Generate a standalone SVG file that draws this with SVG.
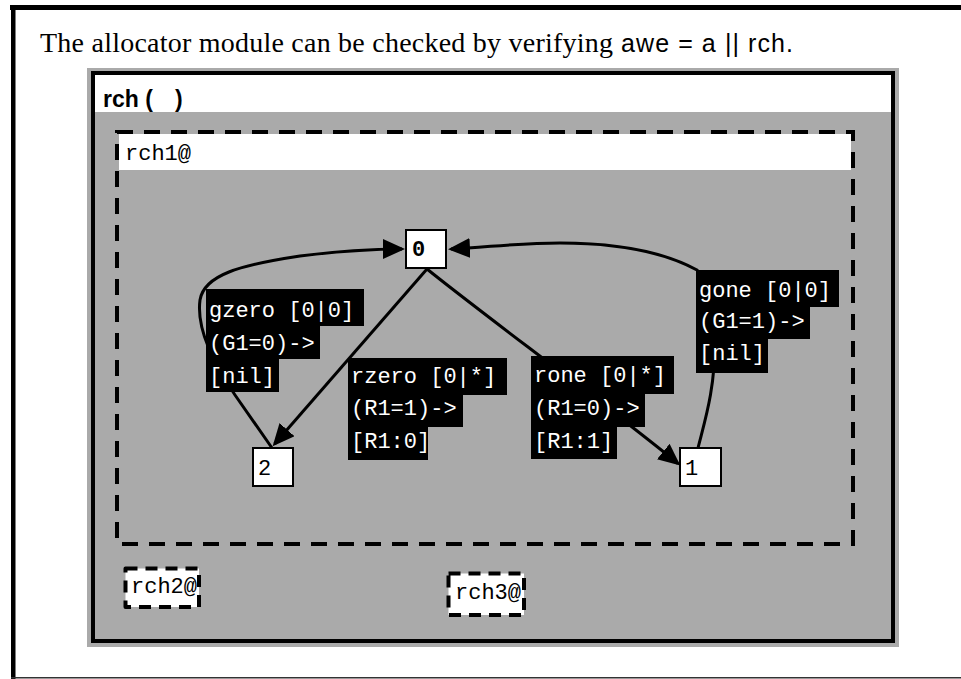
<svg xmlns="http://www.w3.org/2000/svg" width="961" height="679" viewBox="0 0 961 679">
<defs>
<style>
.mono{font-family:"Liberation Mono","DejaVu Sans Mono",monospace;font-size:22px;}
.lbl{fill:#000;}
.lt{fill:#fff;}
.state{fill:#fff;stroke:#000;stroke-width:2;}
.edge{fill:none;stroke:#000;stroke-width:3;}
</style>
<marker id="arr" markerUnits="userSpaceOnUse" markerWidth="24" markerHeight="22" refX="19" refY="10" orient="auto">
<path d="M0,0 L22,10 L0,20 Z" fill="#000"/>
</marker>
</defs>
<rect width="961" height="679" fill="#fff"/>
<!-- outer page frame -->
<rect x="10" y="5" width="951" height="5" fill="#000"/>
<rect x="11" y="5" width="4.5" height="674" fill="#000"/>
<rect x="11" y="677" width="950" height="1.5" fill="#333"/>
<text x="40" y="52" font-family="'Liberation Serif',serif" font-size="28" textLength="573" fill="#000">The allocator module can be checked by verifying</text>
<text x="621" y="52" font-family="'Liberation Sans',sans-serif" font-size="25" textLength="172" fill="#000">awe = a || rch.</text>

<g id="rch">
<rect x="87" y="68" width="812" height="579" fill="#aaaaaa"/>
<rect x="95" y="75" width="796" height="37" fill="#fff"/>
<rect x="93" y="73" width="800" height="568" fill="none" stroke="#000" stroke-width="4"/>
<text x="103" y="107" font-family="'Liberation Sans',sans-serif" font-size="23" font-weight="bold" fill="#000">rch (<tspan x="175">)</tspan></text>
</g>

<g id="rch1">
<rect x="119" y="134" width="732" height="36" fill="#fff"/>
<rect x="117" y="132" width="736" height="412" fill="none" stroke="#000" stroke-width="4" stroke-dasharray="16 11"/>
<text x="125" y="160" class="mono" font-size="21" fill="#000">rch1@</text>
</g>

<g id="connectors">
<path id="e-gzero" class="edge" d="M272 448 L235 395 C215 365 196 330 200 300 C204 275 240 265 300 256 C340 251 370 249 402 249" marker-end="url(#arr)"/>
<path id="e-gone" class="edge" d="M698 448 C705 420 715 390 715 340 C715 300 705 280 697 270 C660 250 610 243 560 243 C520 243 490 247 451 249" marker-end="url(#arr)"/>
<path id="e-rzero" class="edge" d="M427 269 L274.6 444" marker-end="url(#arr)"/>
<path id="e-rone" class="edge" d="M427 269 C480 312 600 400 678 463.5" marker-end="url(#arr)"/>
</g>

<g id="lbl-gzero">
<rect class="lbl" x="206" y="289" width="158" height="37"/>
<rect class="lbl" x="206" y="326" width="114" height="33"/>
<rect class="lbl" x="206" y="359" width="73" height="33"/>
<text class="mono lt" x="209" y="317">gzero [0|0]</text>
<text class="mono lt" x="209" y="350">(G1=0)-&gt;</text>
<text class="mono lt" x="209" y="383">[nil]</text>
</g>

<g id="lbl-rzero">
<rect class="lbl" x="348" y="358" width="159" height="37"/>
<rect class="lbl" x="348" y="395" width="115" height="32"/>
<rect class="lbl" x="348" y="427" width="80" height="33"/>
<text class="mono lt" x="351" y="383">rzero [0|*]</text>
<text class="mono lt" x="351" y="415">(R1=1)-&gt;</text>
<text class="mono lt" x="351" y="448">[R1:0]</text>
</g>

<g id="lbl-rone">
<rect class="lbl" x="531" y="356" width="143" height="38"/>
<rect class="lbl" x="531" y="394" width="114" height="33"/>
<rect class="lbl" x="531" y="427" width="86" height="32"/>
<text class="mono lt" x="534" y="382">rone [0|*]</text>
<text class="mono lt" x="534" y="415">(R1=0)-&gt;</text>
<text class="mono lt" x="534" y="448">[R1:1]</text>
</g>

<g id="lbl-gone">
<rect class="lbl" x="696" y="270" width="143" height="37"/>
<rect class="lbl" x="696" y="307" width="114" height="32"/>
<rect class="lbl" x="696" y="339" width="72" height="34"/>
<text class="mono lt" x="699" y="297">gone [0|0]</text>
<text class="mono lt" x="699" y="328">(G1=1)-&gt;</text>
<text class="mono lt" x="699" y="360">[nil]</text>
</g>

<g id="state0">
<rect class="state" x="406" y="230" width="40" height="38"/>
<text x="412" y="256" font-family="'Liberation Mono',monospace" font-size="22" font-weight="bold" fill="#000">0</text>
</g>
<g id="state2">
<rect class="state" x="253" y="448" width="40" height="38"/>
<text x="258" y="475" class="mono" fill="#000">2</text>
</g>
<g id="state1">
<rect class="state" x="680" y="448" width="41" height="38"/>
<text x="685" y="475" class="mono" fill="#000">1</text>
</g>

<g id="rch2">
<rect x="125.5" y="568.5" width="73.5" height="38.5" fill="#fff" stroke="#000" stroke-width="4" stroke-dasharray="12 8" stroke-linejoin="round"/>
<text x="131" y="593" class="mono" fill="#000">rch2@</text>
</g>
<g id="rch3">
<rect x="448.5" y="573.5" width="75.5" height="41.5" fill="#fff" stroke="#000" stroke-width="4" stroke-dasharray="12 8" stroke-linejoin="round"/>
<text x="455" y="599" class="mono" fill="#000">rch3@</text>
</g>
</svg>
